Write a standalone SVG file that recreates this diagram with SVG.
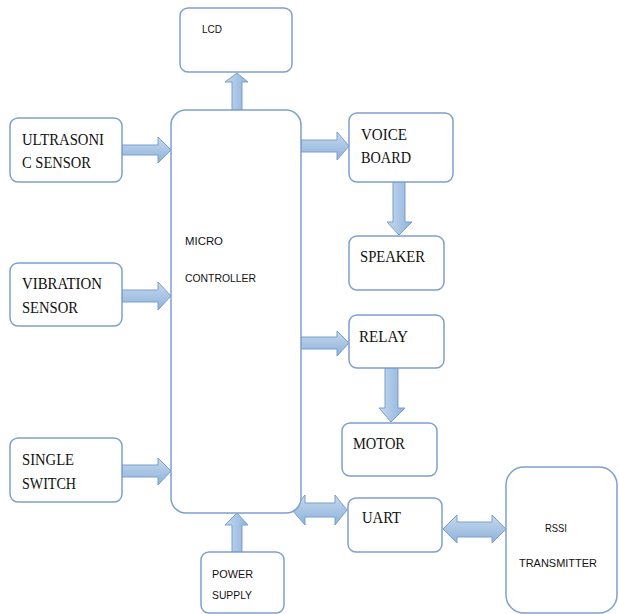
<svg xmlns="http://www.w3.org/2000/svg" width="619" height="614" viewBox="0 0 619 614">
<defs>
<linearGradient id="gh" x1="0" y1="0" x2="0" y2="1">
<stop offset="0" stop-color="#c6d9ee"/><stop offset="1" stop-color="#8db2db"/>
</linearGradient>
<linearGradient id="gv" x1="0" y1="0" x2="1" y2="0">
<stop offset="0" stop-color="#c6d9ee"/><stop offset="1" stop-color="#8db2db"/>
</linearGradient>
</defs>
<style>
.box{fill:#fff;stroke:#7f9fcd;stroke-width:1.5}
.ah{fill:url(#gh);stroke:#7b9fca;stroke-width:1}
.av{fill:url(#gv);stroke:#7b9fca;stroke-width:1}
.s{font-family:"Liberation Serif","Times New Roman",serif;font-size:16px;fill:#111}
.n{font-family:"Liberation Sans",Arial,sans-serif;font-size:11px;fill:#111}
</style>
<rect width="619" height="614" fill="#fff"/>
<g id="connectors">
<path class="ah" d="M122,145 H158 V137 L171,150 L158,163 V155 H122 Z"/>
<path class="ah" d="M122,290 H158 V282 L171,296 L158,310 V302 H122 Z"/>
<path class="ah" d="M122,465 H158 V458 L171,471 L158,485 V477 H122 Z"/>
<path class="ah" d="M301,140 H337 V132 L349,146 L337,160 V152 H301 Z"/>
<path class="ah" d="M301,337 H337 V331 L349,343 L337,356 V349 H301 Z"/>
<path class="av" d="M393,182 V222 H387 L399,235 L412,222 H405 V182 Z"/>
<path class="av" d="M385,368 V408 H379 L391,422 L405,408 H398 V368 Z"/>
<path class="av" d="M232,110 V82 H225 L237,73 L248,82 H242 V110 Z"/>
<path class="av" d="M232,552 V525 H225 L237,513 L248,525 H242 V552 Z"/>
<path class="ah" d="M292,510 L305,495 V503 H335 V495 L347,510 L335,525 V517 H305 V525 Z"/>
<path class="ah" d="M443,529 L457,515 V522 H492 V515 L506,529 L492,543 V537 H457 V543 Z"/>
</g>
<g id="lcd"><rect class="box" x="180" y="8" width="112" height="64" rx="8"/><text class="n" x="202" y="33" textLength="20" lengthAdjust="spacingAndGlyphs">LCD</text></g>
<g id="micro"><rect class="box" x="171" y="110" width="130" height="403" rx="15"/><text class="n" x="185" y="245" textLength="38" lengthAdjust="spacingAndGlyphs">MICRO</text><text class="n" x="185" y="282" textLength="71" lengthAdjust="spacingAndGlyphs">CONTROLLER</text></g>
<g id="ultrasonic"><rect class="box" x="10" y="118" width="112" height="64" rx="8"/><text class="s" x="22" y="145" textLength="82" lengthAdjust="spacingAndGlyphs">ULTRASONI</text><text class="s" x="22" y="168" textLength="69" lengthAdjust="spacingAndGlyphs">C SENSOR</text></g>
<g id="vibration"><rect class="box" x="10" y="263" width="112" height="63" rx="8"/><text class="s" x="22" y="289" textLength="80" lengthAdjust="spacingAndGlyphs">VIBRATION</text><text class="s" x="22" y="313" textLength="56" lengthAdjust="spacingAndGlyphs">SENSOR</text></g>
<g id="switch"><rect class="box" x="10" y="438" width="112" height="64" rx="8"/><text class="s" x="22" y="465" textLength="52" lengthAdjust="spacingAndGlyphs">SINGLE</text><text class="s" x="22" y="489" textLength="54" lengthAdjust="spacingAndGlyphs">SWITCH</text></g>
<g id="voice"><rect class="box" x="349" y="113" width="104" height="69" rx="8"/><text class="s" x="361" y="140" textLength="46" lengthAdjust="spacingAndGlyphs">VOICE</text><text class="s" x="361" y="163" textLength="50" lengthAdjust="spacingAndGlyphs">BOARD</text></g>
<g id="speaker"><rect class="box" x="349" y="236" width="95" height="54" rx="8"/><text class="s" x="360" y="262" textLength="65" lengthAdjust="spacingAndGlyphs">SPEAKER</text></g>
<g id="relay"><rect class="box" x="349" y="315" width="95" height="53" rx="8"/><text class="s" x="359" y="342" textLength="49" lengthAdjust="spacingAndGlyphs">RELAY</text></g>
<g id="motor"><rect class="box" x="342" y="423" width="95" height="53" rx="8"/><text class="s" x="353" y="449" textLength="52" lengthAdjust="spacingAndGlyphs">MOTOR</text></g>
<g id="uart"><rect class="box" x="348" y="498" width="94" height="54" rx="8"/><text class="s" x="362" y="523" textLength="39" lengthAdjust="spacingAndGlyphs">UART</text></g>
<g id="rssi"><rect class="box" x="506" y="467" width="111" height="146" rx="18"/><text class="n" x="545" y="532" textLength="22" lengthAdjust="spacingAndGlyphs">RSSI</text><text class="n" x="519" y="567" textLength="78" lengthAdjust="spacingAndGlyphs">TRANSMITTER</text></g>
<g id="power"><rect class="box" x="201" y="552" width="83" height="61" rx="8"/><text class="n" x="212" y="578" textLength="41" lengthAdjust="spacingAndGlyphs">POWER</text><text class="n" x="212" y="599" textLength="40" lengthAdjust="spacingAndGlyphs">SUPPLY</text></g>
</svg>
